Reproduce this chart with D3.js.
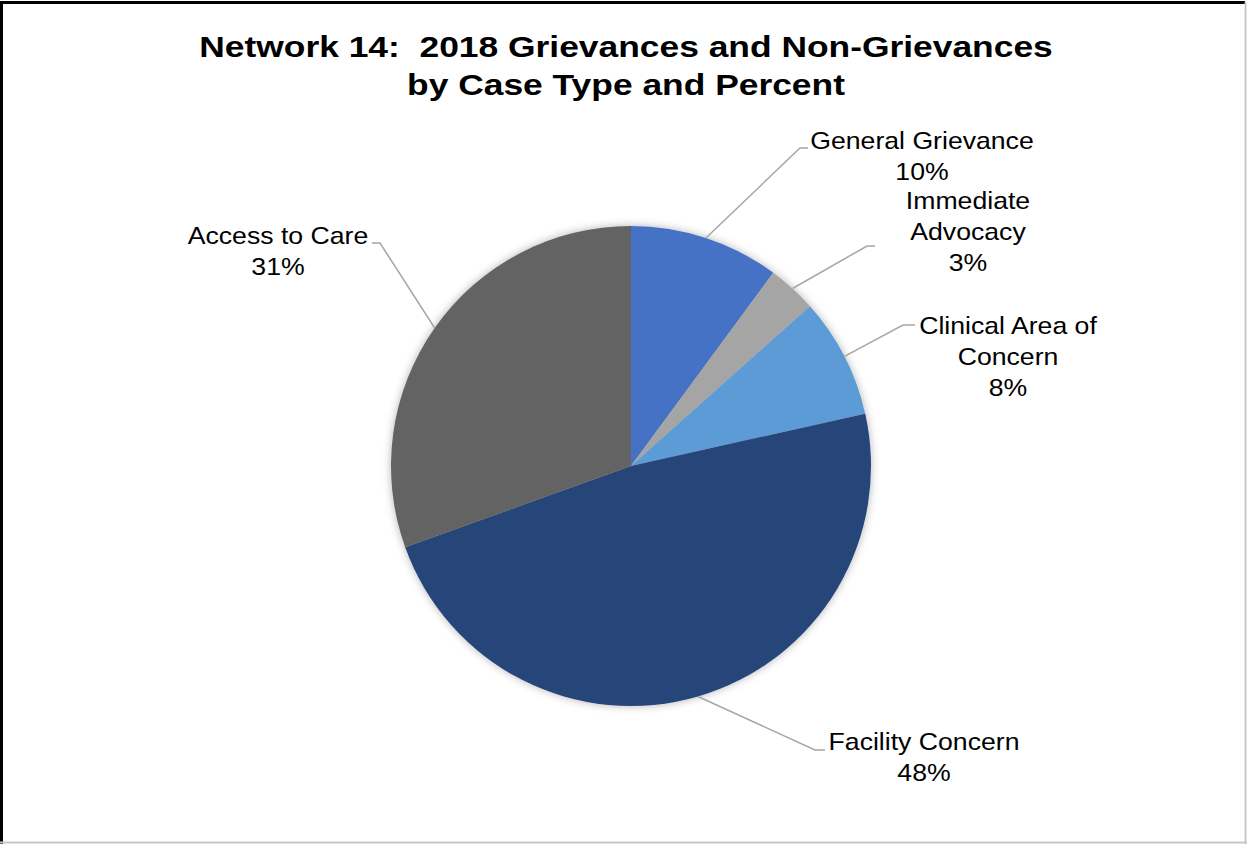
<!DOCTYPE html>
<html>
<head>
<meta charset="utf-8">
<script src="https://cdn.jsdelivr.net/npm/d3@7"></script>
<style>
  body { margin: 0; background: #fff; }
  text { font-family: "Liberation Sans", Arial, sans-serif; fill: #000; white-space: pre; }
</style>
</head>
<body>
<div id="chart"></div>
<script>
// data (percent, clockwise from 12 o'clock)
var categories = ["General Grievance", "Immediate Advocacy", "Clinical Area of Concern", "Facility Concern", "Access to Care"];
var values = [10.1, 3.3, 8.1, 48.0, 30.5];
var colors = ["#4472C4", "#A5A5A5", "#5B9BD5", "#264478", "#636363"];
// how each label is broken into lines
var labelLines = [["General Grievance"], ["Immediate", "Advocacy"], ["Clinical Area of", "Concern"], ["Facility Concern"], ["Access to Care"]];
var titleLines = ["Network 14:  2018 Grievances and Non-Grievances", "by Case Type and Percent"];

var W = 1247, H = 844;
var cx = 631, cy = 466, radius = 240;

// label layout (text centre, first baseline, elbow, end of short tick)
var labelLayout = [
  {tx: 922, ty: 149, ex: 800, ey: 148, hx: 808},
  {tx: 968, ty: 209, ex: 867, ey: 246, hx: 875},
  {tx: 1008, ty: 334, ex: 903, ey: 325, hx: 915},
  {tx: 924, ty: 750, ex: 815, ey: 750, hx: 825},
  {tx: 278, ty: 244, ex: 380, ey: 243, hx: 372}
];

var svg = d3.select("#chart").append("svg")
    .attr("width", W)
    .attr("height", H);

var defs = svg.append("defs");
var f = defs.append("filter").attr("id", "shadow")
    .attr("x", "-20%").attr("y", "-20%").attr("width", "140%").attr("height", "140%");
f.append("feGaussianBlur").attr("in", "SourceAlpha").attr("stdDeviation", 4).attr("result", "blur");
f.append("feFlood").attr("flood-color", "#000").attr("flood-opacity", 0.3);
f.append("feComposite").attr("in2", "blur").attr("operator", "in").attr("result", "sh");
var fm = f.append("feMerge");
fm.append("feMergeNode").attr("in", "sh");
fm.append("feMergeNode").attr("in", "SourceGraphic");

// frame
svg.append("rect").attr("x", 0).attr("y", 0).attr("width", W).attr("height", H).attr("fill", "#fff");
svg.append("line").attr("x1", 1.5).attr("y1", 2).attr("x2", 1.5).attr("y2", H).attr("stroke", "#000").attr("stroke-width", 3);
svg.append("line").attr("x1", 0).attr("y1", 2.5).attr("x2", W - 2).attr("y2", 2.5).attr("stroke", "#000").attr("stroke-width", 3);
svg.append("line").attr("x1", W - 1.5).attr("y1", 2).attr("x2", W - 1.5).attr("y2", H).attr("stroke", "#c8c8c8").attr("stroke-width", 2);
svg.append("line").attr("x1", 0).attr("y1", H - 1.5).attr("x2", W).attr("y2", H - 1.5).attr("stroke", "#c8c8c8").attr("stroke-width", 2);

// title (the source font is stretched sideways)
var title = svg.append("g")
    .attr("transform", "translate(626,0) scale(1.18,1)")
  .append("text")
    .attr("text-anchor", "middle")
    .style("font-size", "30px")
    .style("font-weight", "bold");
titleLines.forEach(function(s, k) {
  title.append("tspan").attr("x", 0).attr("y", 57 + k * 38).text(s);
});

var pie = d3.pie().sort(null).value(function(d) { return d; });
var arcs = pie(values);
var arc = d3.arc().innerRadius(0).outerRadius(radius);

var g = svg.append("g").attr("transform", "translate(" + cx + "," + cy + ")");

g.append("g").attr("filter", "url(#shadow)")
  .selectAll("path")
  .data(arcs)
  .enter()
  .append("path")
    .attr("d", arc)
    .attr("fill", function(d, i) { return colors[i]; });

// leader lines
g.selectAll("polyline")
  .data(arcs)
  .enter()
  .append("polyline")
    .attr("fill", "none")
    .attr("stroke", "#A6A6A6")
    .attr("stroke-width", 1.5)
    .attr("points", function(d, i) {
      var a = (d.startAngle + d.endAngle) / 2;
      var L = labelLayout[i];
      var p0 = [Math.sin(a) * radius, -Math.cos(a) * radius];
      return [p0, [L.ex - cx, L.ey - cy], [L.hx - cx, L.ey - cy]].map(function(p) { return p.join(","); }).join(" ");
    });

// labels
var total = d3.sum(values);
var labels = svg.selectAll("g.lbl")
  .data(arcs)
  .enter()
  .append("g")
    .attr("class", "lbl")
    .attr("transform", function(d, i) { return "translate(" + labelLayout[i].tx + ",0) scale(1.11,1)"; })
  .append("text")
    .attr("text-anchor", "middle")
    .style("font-size", "24px");

labels.each(function(d, i) {
  var t = d3.select(this);
  var L = labelLayout[i];
  var lines = labelLines[i].concat([Math.round(d.value / total * 100) + "%"]);
  lines.forEach(function(s, k) {
    t.append("tspan").attr("x", 0).attr("y", L.ty + k * 31).text(s);
  });
});
</script>
</body>
</html>
